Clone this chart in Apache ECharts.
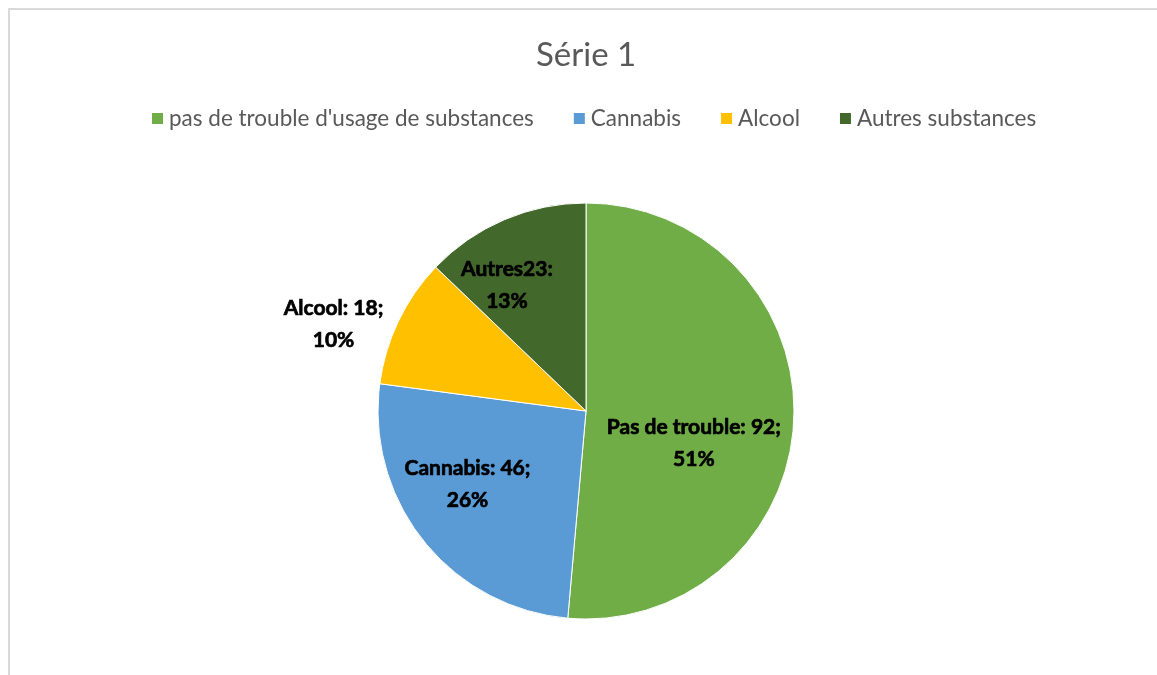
<!DOCTYPE html>
<html>
<head>
<meta charset="utf-8">
<script src="https://cdn.jsdelivr.net/npm/echarts@6/dist/echarts.min.js"></script>
<style>
  html, body { margin: 0; padding: 0; background: #fff; }
  #chart { width: 1157px; height: 675px; }
</style>
</head>
<body>
<div id="chart"></div>
<script>
// Substance-use categories and counts
const categories = ["pas de trouble d'usage de substances", "Cannabis", "Alcool", "Autres substances"];
const labelNames = ["Pas de trouble", "Cannabis", "Alcool", "Autres"];
const counts = [92, 46, 18, 23];
const percents = [51, 26, 10, 13];
const colors = ['#70AD47', '#5B9BD5', '#FFC000', '#43682B'];

// Label nudges relative to the slice mid-radius point
const labelOffsets = [[1, 28], [-35, 6], [-156, -40], [-37, -27]];
const labelSeparators = [': ', ': ', ': ', ''];

const FONT = 'Lato, "Open Sans", sans-serif';

const chart = echarts.init(document.getElementById('chart'), null, { renderer: 'canvas' });

const data = categories.map((name, i) => ({
  name: name,
  value: counts[i],
  itemStyle: { color: colors[i] },
  label: {
    offset: labelOffsets[i],
    formatter: i === 3
      ? labelNames[i] + counts[i] + ':\n' + percents[i] + '%'
      : labelNames[i] + labelSeparators[i] + counts[i] + ';\n' + percents[i] + '%'
  }
}));

chart.setOption({
  animation: false,
  backgroundColor: '#ffffff',
  graphic: [{
    type: 'rect',
    shape: { x: 9, y: 9, width: 1200, height: 720 },
    style: { fill: 'none', stroke: '#d9d9d9', lineWidth: 2 },
    silent: true
  }],
  title: {
    text: 'Série 1',
    left: 531,
    top: 34,
    textStyle: { fontFamily: FONT, fontSize: 33, fontWeight: 'normal', color: '#595959' }
  },
  legend: {
    top: 102,
    left: 145,
    itemWidth: 13,
    itemHeight: 13,
    itemGap: 38,
    icon: 'rect',
    textStyle: { fontFamily: FONT, fontSize: 22.5, color: '#595959', padding: [0, 0, 0, 0] },
    data: categories
  },
  series: [{
    type: 'pie',
    center: [586, 411],
    radius: [0, 208],
    startAngle: 90,
    clockwise: true,
    avoidLabelOverlap: false,
    itemStyle: { borderColor: '#ffffff', borderWidth: 1 },
    label: {
      show: true,
      position: 'inside',
      fontFamily: FONT,
      fontSize: 21,
      fontWeight: 'bold',
      color: '#000000',
      textBorderColor: '#000000',
      textBorderWidth: 0.7,
      lineHeight: 32,
      align: 'center'
    },
    labelLine: { show: false },
    emphasis: { disabled: true },
    data: data
  }]
});
</script>
</body>
</html>
